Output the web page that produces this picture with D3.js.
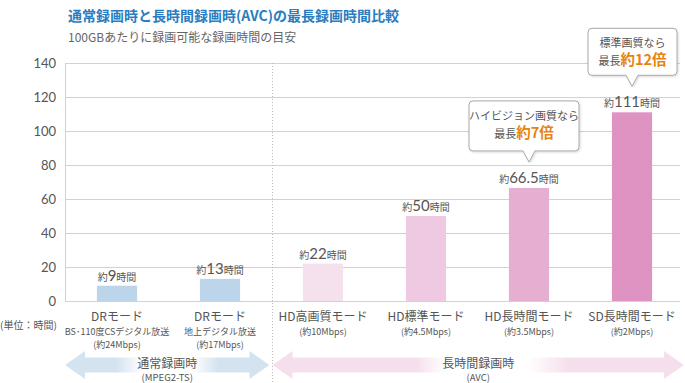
<!DOCTYPE html>
<html><head><meta charset="utf-8">
<script src="https://cdn.jsdelivr.net/npm/d3@7/dist/d3.min.js"></script>
<style>
body{margin:0;background:#fff;}
svg{display:block;font-family:"Noto Sans CJK JP","Noto Sans",sans-serif;}
</style></head><body>
<svg id="c" width="685" height="383"></svg>
<script>
const categories = ["DRモード","DRモード","HD高画質モード","HD標準モード","HD長時間モード","SD長時間モード"];
const subLabels1 = ["BS･110度CSデジタル放送","地上デジタル放送","(約10Mbps)","(約4.5Mbps)","(約3.5Mbps)","(約2Mbps)"];
const subLabels2 = ["(約24Mbps)","(約17Mbps)","","","",""];
const values = [9,13,22,50,66.5,111];
const valueLabels = ["9","13","22","50","66.5","111"];
const barColors = ["#bcd5ea","#bcd5ea","#f5e0ed","#efc9e1","#e6aed0","#df93c3"];
const yTicks = [0,20,40,60,80,100,120,140];
const groupNames = ["通常録画時","長時間録画時"];
const groupSubs = ["(MPEG2-TS)","(AVC)"];
const groupRanges = [[0,1],[2,5]];
const calloutIdx = [4,5];
const calloutLine1 = ["ハイビジョン画質なら","標準画質なら"];
const calloutPre = ["最長","最長"];
const calloutEm = ["約7倍","約12倍"];

const svg = d3.select("#c");
const x = d3.scaleBand().domain(d3.range(categories.length)).range([65.5,683.5]).paddingInner(0.61).paddingOuter(0.305);
const y = d3.scaleLinear().domain([0,140]).range([301,63]);
const left = 65, right = 680;

// title
svg.append("text").attr("x",68).attr("y",21).attr("font-size",14).attr("font-weight","bold").attr("fill","#2a7dc0")
  .text("通常録画時と長時間録画時(AVC)の最長録画時間比較");
svg.append("text").attr("x",68).attr("y",42).attr("font-size",12).attr("fill","#666")
  .text("100GBあたりに録画可能な録画時間の目安");

// grid
svg.append("g").selectAll("line").data(yTicks).join("line")
  .attr("x1",left).attr("x2",right).attr("y1",d=>y(d)+0.5).attr("y2",d=>y(d)+0.5)
  .attr("stroke","#d2d2d2").attr("stroke-width",1);
svg.append("line").attr("x1",left+0.5).attr("x2",left+0.5).attr("y1",y(140)).attr("y2",y(0)).attr("stroke","#d2d2d2");
svg.append("g").selectAll("text").data(yTicks).join("text")
  .attr("x",56).attr("y",d=>y(d)+5).attr("text-anchor","end").attr("font-size",13).attr("fill","#555")
  .attr("font-family","Lato, 'Noto Sans', sans-serif").text(d=>d);
svg.append("text").attr("x",0).attr("y",329).attr("font-size",10).attr("fill","#555").text("(単位：時間)");

// separator
const sepX = x(2) - x.step()*x.paddingInner()/2;
svg.append("line").attr("x1",Math.round(sepX)+0.5).attr("x2",Math.round(sepX)+0.5).attr("y1",y(140)).attr("y2",383)
  .attr("stroke","#bbb").attr("stroke-dasharray","1,2");

// bars
svg.append("g").selectAll("rect").data(values).join("rect")
  .attr("x",(d,i)=>x(i)).attr("width",x.bandwidth()).attr("y",d=>y(d)).attr("height",d=>y(0)-y(d))
  .attr("fill",(d,i)=>barColors[i]);

// value labels
const vl = svg.append("g").selectAll("text").data(values).join("text")
  .attr("x",(d,i)=>x(i)+x.bandwidth()/2).attr("y",d=>y(d)-5).attr("text-anchor","middle").attr("fill","#555");
vl.append("tspan").attr("font-size",10).text("約");
vl.append("tspan").attr("font-size",15).attr("font-family","Lato, 'Noto Sans', sans-serif").text((d,i)=>valueLabels[i]);
vl.append("tspan").attr("font-size",10).text("時間");

// x labels
const xl = svg.append("g").selectAll("g").data(categories).join("g")
  .attr("transform",(d,i)=>`translate(${x(i)+x.bandwidth()/2},0)`);
xl.append("text").attr("y",321).attr("text-anchor","middle").attr("font-size",12).attr("fill","#555").text(d=>d);
xl.append("text").attr("y",335).attr("text-anchor","middle").attr("font-size",9).attr("fill","#555").text((d,i)=>subLabels1[i]);
xl.filter((d,i)=>subLabels2[i]!=="").append("text").attr("y",348).attr("text-anchor","middle").attr("font-size",9).attr("fill","#555").text((d,i)=>subLabels2[i]);

// group arrows
const defs = svg.append("defs");
const gradCols = ["#d3e3f0","#f6dfec"];
groupRanges.forEach((r,gi)=>{
  const g = defs.append("linearGradient").attr("id","ag"+gi).attr("x1","0").attr("x2","1").attr("y1","0").attr("y2","0");
  g.append("stop").attr("offset","0%").attr("stop-color",gradCols[gi]);
  g.append("stop").attr("offset",gi==0?"25%":"35%").attr("stop-color",gradCols[gi]);
  g.append("stop").attr("offset",gi==0?"38%":"42%").attr("stop-color","#fff");
  g.append("stop").attr("offset",gi==0?"62%":"62%").attr("stop-color","#fff");
  g.append("stop").attr("offset",gi==0?"75%":"72%").attr("stop-color",gradCols[gi]);
  g.append("stop").attr("offset","100%").attr("stop-color",gradCols[gi]);
});
groupRanges.forEach((r,gi)=>{
  const x0 = gi==0 ? left : sepX+1;
  const x1 = gi==0 ? sepX-2 : 684;
  const cy = 365, hh = 14, sh = 7.5, hl = 20;
  const p = `M${x0},${cy} L${x0+hl},${cy-hh} L${x0+hl},${cy-sh} L${x1-hl},${cy-sh} L${x1-hl},${cy-hh} L${x1},${cy} L${x1-hl},${cy+hh} L${x1-hl},${cy+sh} L${x0+hl},${cy+sh} L${x0+hl},${cy+hh} Z`;
  svg.append("path").attr("d",p).attr("fill",`url(#ag${gi})`);
  const cx = (x0+x1)/2;
  svg.append("text").attr("x",cx).attr("y",368).attr("text-anchor","middle").attr("font-size",12).attr("fill","#555").text(groupNames[gi]);
  svg.append("text").attr("x",cx).attr("y",381).attr("text-anchor","middle").attr("font-size",9.5).attr("fill","#555").text(groupSubs[gi]);
});

// callouts
const flt = defs.append("filter").attr("id","sh").attr("x","-10%").attr("y","-10%").attr("width","130%").attr("height","140%");
flt.append("feDropShadow").attr("dx",1).attr("dy",1).attr("stdDeviation",1).attr("flood-color","#000").attr("flood-opacity",0.15);
calloutIdx.forEach((bi,k)=>{
  const cx = x(bi)+x.bandwidth()/2;
  const tip = y(values[bi]) - 26;
  const bh = k==0 ? 50 : 47;
  const bw = k==0 ? 110 : 89;
  const bottom = tip - 11;
  const top = bottom - bh;
  const bx0 = k==0 ? cx - 60 : cx - 44;
  const bx1 = bx0 + bw;
  const rr = 4;
  const p = `M${bx0+rr},${top} L${bx1-rr},${top} Q${bx1},${top} ${bx1},${top+rr} L${bx1},${bottom-rr} Q${bx1},${bottom} ${bx1-rr},${bottom} L${cx+6},${bottom} L${cx},${tip} L${cx-6},${bottom} L${bx0+rr},${bottom} Q${bx0},${bottom} ${bx0},${bottom-rr} L${bx0},${top+rr} Q${bx0},${top} ${bx0+rr},${top} Z`;
  svg.append("path").attr("d",p).attr("fill","#fff").attr("stroke","#a8a8a8").attr("filter","url(#sh)");
  const mx = (bx0+bx1)/2;
  svg.append("text").attr("x",mx).attr("y",top+19).attr("text-anchor","middle").attr("font-size",11).attr("fill","#555").text(calloutLine1[k]);
  const t2 = svg.append("text").attr("x",mx).attr("y",top+37).attr("text-anchor","middle").attr("fill","#555");
  t2.append("tspan").attr("font-size",11).text(calloutPre[k]);
  t2.append("tspan").attr("font-size",14.5).attr("font-weight","bold").attr("fill","#e8830f").text(calloutEm[k]);
});
</script>
</body></html>
